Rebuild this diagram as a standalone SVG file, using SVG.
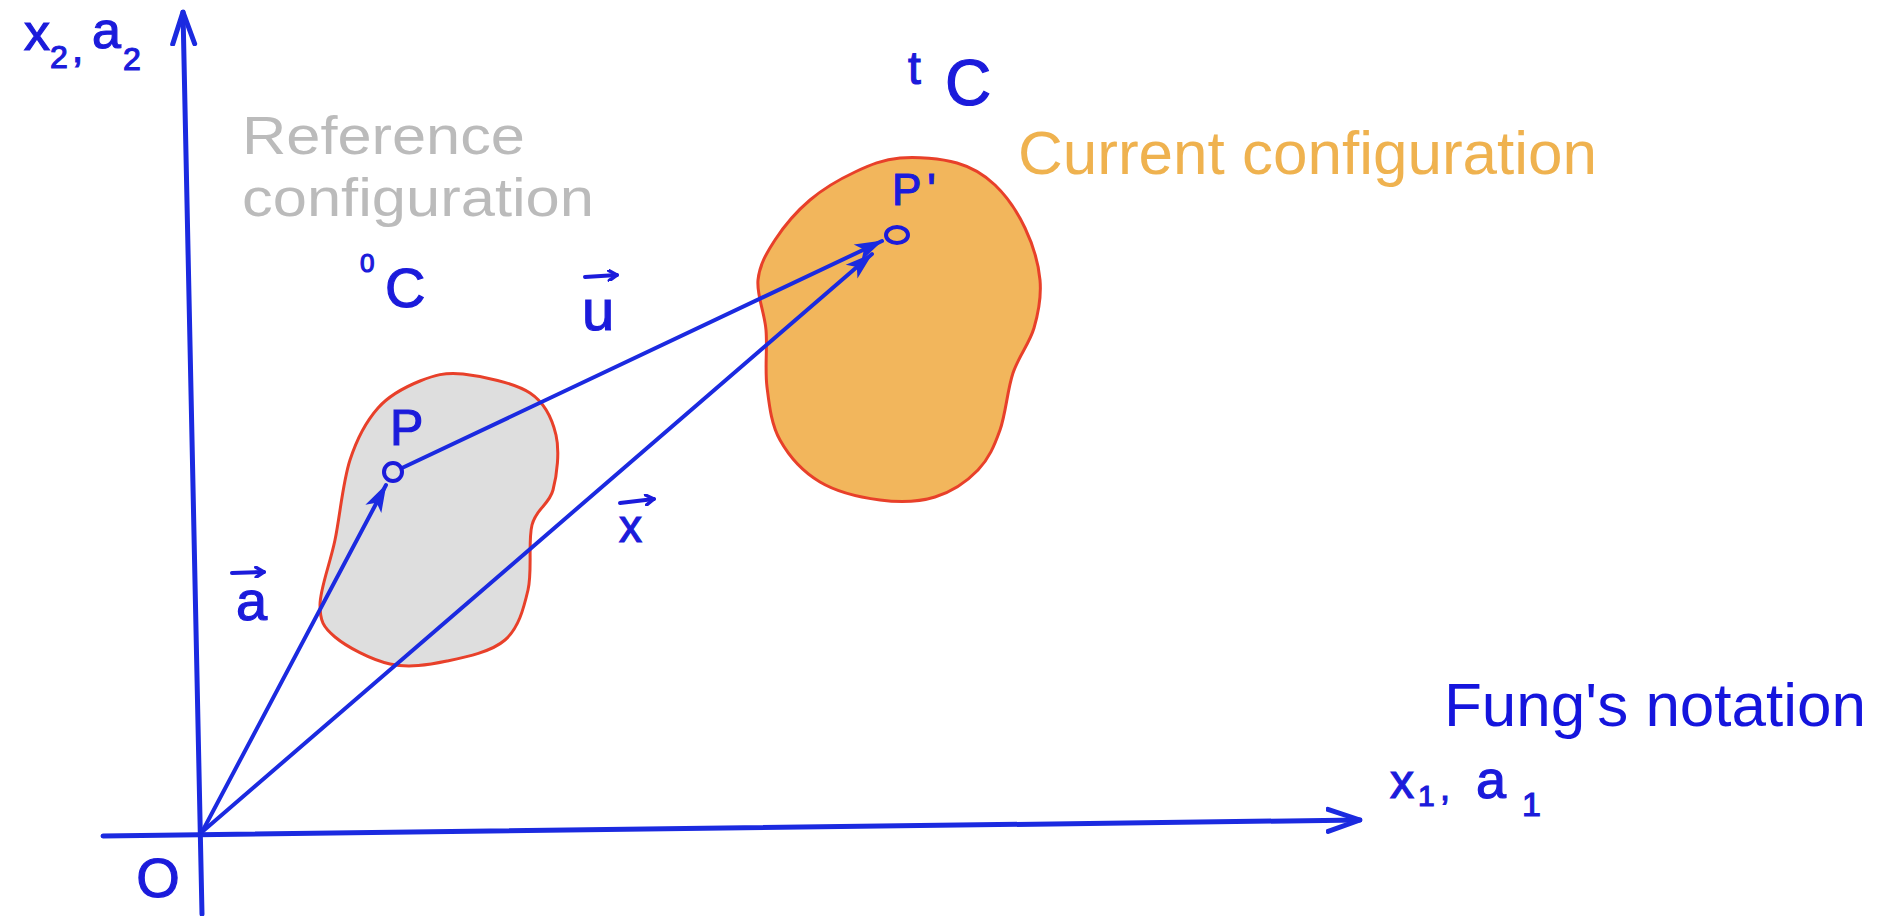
<svg xmlns="http://www.w3.org/2000/svg" width="1882" height="916" viewBox="0 0 1882 916">
  <style>
    .hand { font-family: "Liberation Sans", Arial, sans-serif; fill: #1b1bdb; stroke: #1b1bdb; stroke-width: 1.2; }
    .vec { stroke: #1b2ae0; stroke-width: 4; fill: none; stroke-linecap: round; }
    .axis { stroke: #1b2ae0; stroke-width: 5; fill: none; stroke-linecap: round; }
    .acc { stroke: #1b1bdb; stroke-width: 4; fill: none; stroke-linecap: round; }
    .blob { stroke: #e8402a; stroke-width: 3; }
    .print { font-family: "Liberation Sans", Arial, sans-serif; }
  </style>
  <defs>
    <marker id="head" viewBox="0 0 30 20" refX="28" refY="10" markerWidth="30" markerHeight="20" markerUnits="userSpaceOnUse" orient="auto">
      <path d="M1,1 L29,10 L1,19 L8,10 Z" fill="#1b2ae0"/>
    </marker>
    <marker id="axhead" viewBox="0 0 36 28" refX="34" refY="14" markerWidth="36" markerHeight="28" markerUnits="userSpaceOnUse" orient="auto">
      <path d="M2,3 L34,14 L2,25" fill="none" stroke="#1b2ae0" stroke-width="5" stroke-linecap="round" stroke-linejoin="round"/>
    </marker>
    <marker id="acchead" viewBox="0 0 12 12" refX="10" refY="6" markerWidth="12" markerHeight="12" markerUnits="userSpaceOnUse" orient="auto">
      <path d="M2,1 L10,6 L2,11" fill="none" stroke="#1b1bdb" stroke-width="3.5" stroke-linecap="round" stroke-linejoin="round"/>
    </marker>
  </defs>

  <rect x="0" y="0" width="1882" height="916" fill="#ffffff"/>

  <g id="reference-body">
    <path class="blob" fill="#dedede" d="M 463,374 C 481.3,376 514.5,382.8 530,393 C 545.5,403.2 552.2,418.8 556,435 C 559.8,451.2 557,475 553,490 C 549,505 536.2,508.3 532,525 C 527.8,541.7 532.5,570.8 528,590 C 523.5,609.2 518.5,628.2 505,640 C 491.5,651.8 466.2,657 447,661 C 427.8,665 408.7,668 390,664 C 371.3,660 346.7,646.8 335,637 C 323.3,627.2 320,621.2 320,605 C 320,588.8 330,564.2 335,540 C 340,515.8 342.8,482 350,460 C 357.2,438 366.3,421.2 378,408 C 389.7,394.8 405.8,386.7 420,381 C 434.2,375.3 444.7,372 463,374 Z"/>
  </g>

  <g id="current-body">
    <path class="blob" fill="#f2b65c" d="M 900,158 C 917,156.5 941.2,158.5 957,163 C 972.8,167.5 983.7,174.2 995,185 C 1006.3,195.8 1017.5,212.2 1025,228 C 1032.5,243.8 1038.5,263.3 1040,280 C 1041.5,296.7 1038.5,312.5 1034,328 C 1029.5,343.5 1018.7,356 1013,373 C 1007.3,390 1005.8,413.8 1000,430 C 994.2,446.2 988.8,458.8 978,470 C 967.2,481.2 951.3,492 935,497 C 918.7,502 899.2,502.5 880,500 C 860.8,497.5 836.7,492 820,482 C 803.3,472 788.8,455.8 780,440 C 771.2,424.2 769.3,405.3 767,387 C 764.7,368.7 767.5,347.8 766,330 C 764.5,312.2 756.5,295 758,280 C 759.5,265 766.3,253.3 775,240 C 783.7,226.7 796.7,211.3 810,200 C 823.3,188.7 840,179 855,172 C 870,165 883,159.5 900,158 Z"/>
  </g>

  <g id="connectors">
    <line class="axis" x1="202" y1="914" x2="183" y2="12" marker-end="url(#axhead)"/>
    <line class="axis" x1="103" y1="836" x2="1360" y2="820" marker-end="url(#axhead)"/>
    <line class="vec" x1="202" y1="832" x2="386" y2="485" marker-end="url(#head)"/>
    <line class="vec" x1="402" y1="468" x2="882" y2="241" marker-end="url(#head)"/>
    <line class="vec" x1="202" y1="832" x2="872" y2="254" marker-end="url(#head)"/>
  </g>

  <g id="point-P">
    <circle cx="393" cy="472" r="9" fill="none" stroke="#1b1bdb" stroke-width="4"/>
    <text class="hand" x="390" y="445" font-size="50">P</text>
  </g>

  <g id="point-P-prime">
    <ellipse cx="897" cy="235" rx="11" ry="8" fill="none" stroke="#1b1bdb" stroke-width="4"/>
    <text class="hand" x="892" y="205" font-size="44" letter-spacing="6">P'</text>
  </g>

  <g id="label-origin">
    <text class="hand" x="158" y="897" font-size="56" text-anchor="middle">O</text>
  </g>

  <g id="label-x2a2">
    <text class="hand" x="24" y="50" font-size="52">x</text>
    <text class="hand" x="50" y="68" font-size="32">2</text>
    <text class="hand" x="72" y="62" font-size="40">,</text>
    <text class="hand" x="92" y="48" font-size="52">a</text>
    <text class="hand" x="123" y="70" font-size="32">2</text>
  </g>

  <g id="label-x1a1">
    <text class="hand" x="1390" y="798" font-size="48">x</text>
    <text class="hand" x="1418" y="806" font-size="30">1</text>
    <text class="hand" x="1440" y="800" font-size="36">,</text>
    <text class="hand" x="1476" y="798" font-size="54">a</text>
    <text class="hand" x="1522" y="816" font-size="34">1</text>
  </g>

  <g id="label-0C">
    <text class="hand" x="360" y="272" font-size="26">0</text>
    <text class="hand" x="385" y="307" font-size="56">C</text>
  </g>

  <g id="label-tC">
    <text class="hand" x="908" y="84" font-size="46">t</text>
    <text class="hand" x="945" y="105" font-size="64">C</text>
  </g>

  <g id="label-a">
    <line class="acc" x1="232" y1="573" x2="264" y2="572" marker-end="url(#acchead)"/>
    <text class="hand" x="236" y="620" font-size="56">a</text>
  </g>

  <g id="label-u">
    <line class="acc" x1="585" y1="277" x2="617" y2="275" marker-end="url(#acchead)"/>
    <text class="hand" x="582" y="330" font-size="58">u</text>
  </g>

  <g id="label-x">
    <line class="acc" x1="620" y1="503" x2="654" y2="499" marker-end="url(#acchead)"/>
    <text class="hand" x="619" y="542" font-size="46">x</text>
  </g>

  <g id="title-reference">
    <text class="print" x="242" y="154" font-size="54" textLength="283" lengthAdjust="spacingAndGlyphs" fill="#bbbbbb">Reference</text>
    <text class="print" x="242" y="216" font-size="54" textLength="352" lengthAdjust="spacingAndGlyphs" fill="#bbbbbb">configuration</text>
  </g>

  <g id="title-current">
    <text class="print" x="1018" y="174" font-size="62" fill="#efb24f">Current configuration</text>
  </g>

  <g id="title-notation">
    <text class="print" x="1444" y="726" font-size="62" fill="#1515dd">Fung's notation</text>
  </g>
</svg>
